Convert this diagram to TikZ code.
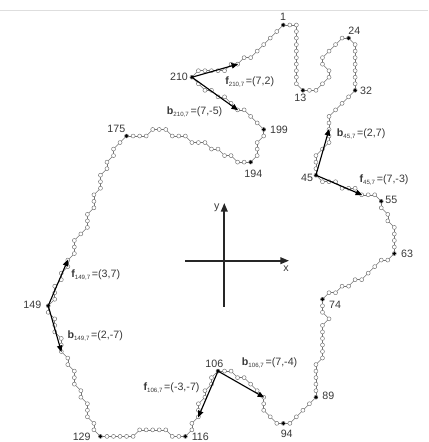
\documentclass[tikz,border=0pt]{standalone}
\usepackage{fontspec}
\setmainfont{Liberation Sans}
\usetikzlibrary{arrows.meta}
\newcommand\vlab[3]{\textbf{#1}{\fontsize{4.6}{5}\selectfont\raisebox{-1.3pt}{#2}}\hspace{1.3pt}#3}
\tikzset{
  chainline/.style={draw=black!55,line width=0.4pt},
  chainpt/.style={circle,draw=black!55,fill=white,line width=0.35pt,inner sep=0pt,minimum size=3pt},
  keypt/.style={circle,fill=black,inner sep=0pt,minimum size=2.8pt},
  vec/.style={draw=black,line width=0.85pt,-{Triangle[length=5pt,width=4pt]},shorten >=-0.5pt},
  axis/.style={draw=black!85,line width=1.25pt},
  axistip/.style={axis,-{Triangle[length=6.5pt,width=5pt]}},
  lab/.style={inner sep=0pt,text=black!78,font=\fontsize{8}{9.6}\selectfont},
  vlabel/.style={lab,anchor=west},
}
\begin{document}
\begin{tikzpicture}[x=0.75pt,y=-0.75pt]
\useasboundingbox (0,0) rectangle (428,442);
\coordinate (topL) at (0,10);
\coordinate (topR) at (428,10);
\draw[black!13,line width=0.6pt] (topL) -- (topR);
% chain points
\foreach \i/\j [count=\c] in {
0/0,1/0,2/0,2/1,2/2,2/3,2/4,2/5,2/6,2/7,2/8,2/9,3/10,4/10,5/10,6/9,7/8,7/7,6/6,6/5,7/4,8/3,9/2,10/2,
11/3,11/4,11/5,11/6,11/7,11/8,11/9,11/10,10/11,9/12,8/13,7/14,7/15,7/16,7/17,7/18,6/19,5/20,5/21,5/22,5/23,
6/24,7/24,8/24,9/25,10/25,11/25,12/26,13/26,14/26,15/27,15/28,16/29,16/30,17/31,17/32,17/33,17/34,17/35,
16/36,15/36,14/37,13/38,12/39,11/39,10/40,9/40,8/41,7/41,6/42,6/43,6/44,7/45,6/46,6/47,6/48,6/49,6/50,6/51,
5/52,5/53,5/54,5/55,5/56,5/57,4/58,3/59,2/60,1/61,0/61,-1/61,-2/60,-3/59,-3/58,-3/57,-4/56,-5/55,-6/54,-7/54,-8/53,-9/53,-10/53,
-11/54,-11/55,-12/56,-12/57,-13/58,-13/59,-13/60,-14/61,-14/62,-15/63,-16/63,-17/63,-18/62,-19/62,-20/62,-21/62,-22/62,-23/63,-24/63,-25/63,-26/63,-27/63,-28/63,
-29/62,-29/61,-30/60,-30/59,-30/58,-31/57,-31/56,-32/55,-32/54,-32/53,-33/52,-33/51,-34/50,-34/49,-34/48,-35/47,-35/46,-35/45,-36/44,-36/43,
-35/42,-35/41,-35/40,-34/39,-34/38,-33/37,-33/36,-32/35,-32/34,-32/33,-31/32,-30/31,-30/30,-30/29,-29/28,-29/27,-29/26,-28/25,-28/24,-28/23,-27/22,-27/21,-26/20,-26/19,-25/18,-24/17,
-23/17,-22/17,-21/17,-20/16,-19/16,-18/16,-17/17,-16/17,-15/17,-14/18,-13/18,-12/18,-11/19,-10/19,-9/20,-8/20,-7/21,-6/21,-5/21,
-4/20,-4/19,-4/18,-3/17,-3/16,-4/15,-5/14,-6/13,-7/13,-8/12,-9/11,-10/11,-11/10,-12/10,-13/9,-14/8,
-13/7,-12/7,-11/7,-10/7,-9/7,-8/6,-7/6,-6/5,-5/5,-4/4,-3/3,-2/2,-1/1}
  {\coordinate (p\c) at ({283.3+6.53*\i},{25+6.53*\j});}
% chain
\foreach \c in {1,...,223}{
  \pgfmathtruncatemacro\nx{mod(\c,223)+1}
  \draw[chainline] (p\c) -- (p\nx);
}
\foreach \c in {1,...,223}{\node[chainpt] at (p\c) {};}
\foreach \c in {1,13,24,32,45,55,63,74,89,94,106,116,129,149,175,194,199,210}{\node[keypt] at (p\c) {};}
% vectors
\draw[vec] (p210) -- (p217);
\draw[vec] (p210) -- (p203);
\draw[vec] (p45) -- (p38);
\draw[vec] (p45) -- (p52);
\draw[vec] (p106) -- (p99);
\draw[vec] (p106) -- (p113);
\draw[vec] (p149) -- (p156);
\draw[vec] (p149) -- (p142);
% axes
\coordinate (xa) at (185,260.7);
\coordinate (xb) at (289,260.7);
\coordinate (ya) at (224.3,306.7);
\coordinate (yb) at (224.3,203);
\draw[axistip] (xa) -- (xb);
\draw[axistip] (ya) -- (yb);
\node[lab] (xl) at (286,269) {x};
\node[lab] (yl) at (216.7,207.5) {y};
% numbers
\node[lab] (n1) at (283,17.3) {1};
\node[lab] (n210) at (179,76.7) {210};
\node[lab] (n199) at (279,130) {199};
\node[lab] (n13) at (300.3,97.7) {13};
\node[lab] (n24) at (354.3,30.3) {24};
\node[lab] (n32) at (366,90.7) {32};
\node[lab] (n45) at (307,177.7) {45};
\node[lab] (n55) at (391.3,200) {55};
\node[lab] (n63) at (407,254) {63};
\node[lab] (n74) at (335,304.7) {74};
\node[lab] (n89) at (328.3,396.3) {89};
\node[lab] (n94) at (286.7,433.7) {94};
\node[lab] (n106) at (214.3,363.7) {106};
\node[lab] (n116) at (200.3,436.8) {116};
\node[lab] (n129) at (81.7,436.8) {129};
\node[lab] (n149) at (32.3,305) {149};
\node[lab] (n175) at (116.3,129) {175};
\node[lab] (n194) at (253.3,174.3) {194};
% vector labels
\node[vlabel] (lf210) at (225,82) {\vlab{f}{210,7}{=(7,2)}};
\node[vlabel] (lb210) at (166.7,111.7) {\vlab{b}{210,7}{=(7,-5)}};
\node[vlabel] (lb45) at (336.7,134.3) {\vlab{b}{45,7}{=(2,7)}};
\node[vlabel] (lf45) at (359.3,180) {\vlab{f}{45,7}{=(7,-3)}};
\node[vlabel] (lb106) at (241.7,363.3) {\vlab{b}{106,7}{=(7,-4)}};
\node[vlabel] (lf106) at (143.3,388.3) {\vlab{f}{106,7}{=(-3,-7)}};
\node[vlabel] (lf149) at (71,275) {\vlab{f}{149,7}{=(3,7)}};
\node[vlabel] (lb149) at (67.3,335.7) {\vlab{b}{149,7}{=(2,-7)}};
\end{tikzpicture}
\end{document}
